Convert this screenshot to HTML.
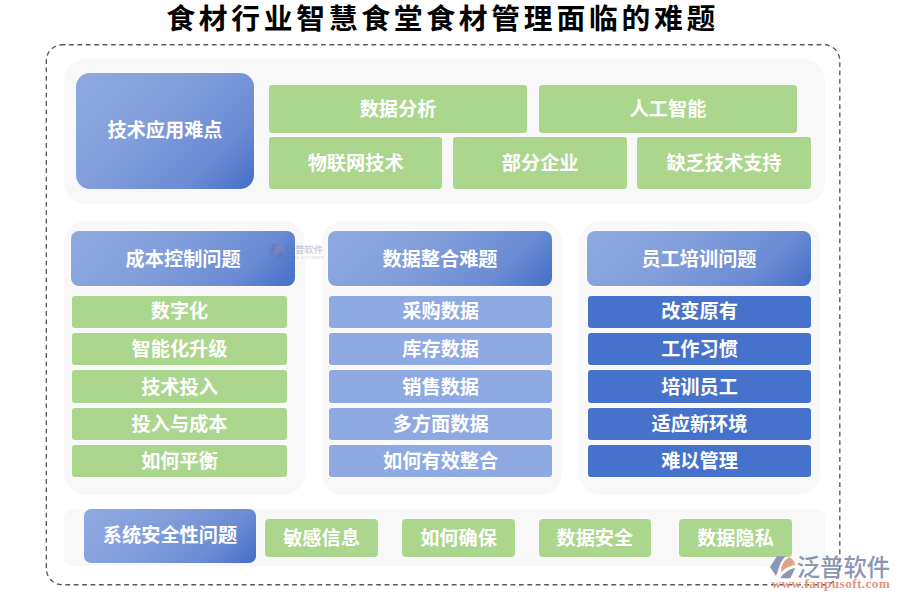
<!DOCTYPE html>
<html lang="zh-CN">
<head>
<meta charset="utf-8">
<title>食材行业智慧食堂食材管理面临的难题</title>
<style>
html,body{margin:0;padding:0;}
body{width:900px;height:600px;position:relative;overflow:hidden;background:#fff;
  font-family:"Liberation Sans","Noto Sans CJK SC",sans-serif;}
.abs{position:absolute;box-sizing:border-box;}
.title{left:166.2px;top:0.5px;height:36px;text-align:left;font-weight:bold;font-size:28.8px;
  letter-spacing:3.72px;color:#000;line-height:36px;white-space:nowrap;}
.panel{background:#f8f8f8;border-radius:22px;}
.box{display:flex;align-items:center;justify-content:center;color:#fff;font-weight:bold;
  font-size:19.2px;white-space:nowrap;line-height:1;box-shadow:0 0 0 1px rgba(255,255,255,.4);}
.g{background:#abd68d;border-radius:3px;}
.lb{background:#8faae2;border-radius:3px;}
.db{background:#4672cb;border-radius:3px;}
.grad{background:linear-gradient(135deg,#8fa9e0 0%,#819edb 42%,#6a8bd4 76%,#446ec7 100%);}
</style>
</head>
<body>
<div class="abs title">食材行业智慧食堂食材管理面临的难题</div>

<svg class="abs" style="left:0;top:0" width="900" height="600" viewBox="0 0 900 600">
  <rect x="46.3" y="44.7" width="793.5" height="540" rx="16" ry="16" fill="none" stroke="#5a5a5a" stroke-width="1.35" stroke-dasharray="4.8 3.6" stroke-dashoffset="1.7"/>
</svg>

<!-- top panel -->
<div class="abs panel" style="left:64px;top:58.5px;width:761px;height:145px;"></div>
<div class="abs box grad" style="left:76px;top:73px;width:178px;height:115.5px;border-radius:14px;">技术应用难点</div>
<div class="abs box g" style="left:269px;top:85px;width:258px;height:47.7px;padding-top:2px;">数据分析</div>
<div class="abs box g" style="left:539px;top:85px;width:258px;height:47.7px;padding-top:2px;">人工智能</div>
<div class="abs box g" style="left:269px;top:137px;width:173.3px;height:51.7px;padding-top:1px;">物联网技术</div>
<div class="abs box g" style="left:453px;top:137px;width:174.3px;height:51.7px;padding-top:1px;">部分企业</div>
<div class="abs box g" style="left:637px;top:137px;width:174px;height:51.7px;padding-top:1px;">缺乏技术支持</div>

<!-- middle panels -->
<div class="abs panel" style="left:64px;top:221px;width:241px;height:274px;"></div>
<div class="abs panel" style="left:321.7px;top:221px;width:240px;height:274px;"></div>
<div class="abs panel" style="left:579.3px;top:221px;width:240.7px;height:274px;"></div>

<div class="abs box grad" style="left:71px;top:230.7px;width:224.3px;height:55.3px;border-radius:8px;padding-top:2px;">成本控制问题</div>
<div class="abs box grad" style="left:328px;top:230.7px;width:224px;height:55.3px;border-radius:8px;padding-top:2px;">数据整合难题</div>
<div class="abs box grad" style="left:587px;top:230.7px;width:224px;height:55.3px;border-radius:8px;padding-top:2px;">员工培训问题</div>

<div class="abs box g" style="left:72px;top:296px;width:215px;height:32.2px;">数字化</div>
<div class="abs box g" style="left:72px;top:333.2px;width:215px;height:32.2px;">智能化升级</div>
<div class="abs box g" style="left:72px;top:370.4px;width:215px;height:32.2px;padding-top:2px;">技术投入</div>
<div class="abs box g" style="left:72px;top:407.6px;width:215px;height:32.2px;padding-top:2px;">投入与成本</div>
<div class="abs box g" style="left:72px;top:444.8px;width:215px;height:32.2px;padding-top:2px;">如何平衡</div>

<div class="abs box lb" style="left:329.3px;top:296px;width:222.7px;height:32.2px;">采购数据</div>
<div class="abs box lb" style="left:329.3px;top:333.2px;width:222.7px;height:32.2px;">库存数据</div>
<div class="abs box lb" style="left:329.3px;top:370.4px;width:222.7px;height:32.2px;padding-top:2px;">销售数据</div>
<div class="abs box lb" style="left:329.3px;top:407.6px;width:222.7px;height:32.2px;padding-top:2px;">多方面数据</div>
<div class="abs box lb" style="left:329.3px;top:444.8px;width:222.7px;height:32.2px;padding-top:2px;">如何有效整合</div>

<div class="abs box db" style="left:588px;top:296px;width:223px;height:32.2px;">改变原有</div>
<div class="abs box db" style="left:588px;top:333.2px;width:223px;height:32.2px;">工作习惯</div>
<div class="abs box db" style="left:588px;top:370.4px;width:223px;height:32.2px;padding-top:2px;">培训员工</div>
<div class="abs box db" style="left:588px;top:407.6px;width:223px;height:32.2px;padding-top:2px;">适应新环境</div>
<div class="abs box db" style="left:588px;top:444.8px;width:223px;height:32.2px;padding-top:2px;">难以管理</div>

<!-- bottom panel -->
<div class="abs panel" style="left:64px;top:509px;width:761px;height:57px;border-radius:9px;"></div>
<div class="abs box grad" style="left:84px;top:509px;width:172px;height:53.7px;border-radius:7px;">系统安全性问题</div>
<div class="abs box g" style="left:265px;top:519px;width:113px;height:37.7px;border-radius:4px;padding-top:2px;">敏感信息</div>
<div class="abs box g" style="left:402px;top:519px;width:113px;height:37.7px;border-radius:4px;padding-top:2px;">如何确保</div>
<div class="abs box g" style="left:538.7px;top:519px;width:112.3px;height:37.7px;border-radius:4px;padding-top:2px;">数据安全</div>
<div class="abs box g" style="left:679px;top:519px;width:113px;height:37.7px;border-radius:4px;padding-top:2px;">数据隐私</div>

<!-- watermark -->
<svg class="abs" style="left:260px;top:235px;opacity:0.3" width="75" height="30" viewBox="0 0 75 30">
  <g transform="translate(5.75,4.45) scale(0.6,0.68)">
  <path d="M12,6.3 L20.7,6.3 C16.7,10 14.3,14.7 13.3,20 L11,26 L5,17 Z" fill="#5b6b94"/>
  <path d="M16,22.3 C15.7,15.3 19.3,9.3 24.7,7.3 C28,9.3 30,12.7 30.1,15 C24.7,15.7 19.3,18.7 16,22.3 Z" fill="#d9785a"/>
  <path d="M15,28.3 C18.7,22.7 24,19 30.3,17.9 L25.3,28.3 Z" fill="#5b6b94"/>
  </g>
  <g transform="translate(25.6,18) scale(0.5)">
  <text x="0" y="0" font-family="'Liberation Sans','Noto Sans CJK SC',sans-serif" font-weight="bold" font-size="18.7" fill="#5b6b94">泛普软件</text>
  <text x="1" y="11.2" font-family="'Liberation Sans',sans-serif" font-size="6.6" letter-spacing="1.05" fill="#5b6b94">FANPU SOFTWARE</text>
  </g>
</svg>

<!-- logo -->
<svg class="abs" style="left:765px;top:550px" width="135" height="50" viewBox="0 0 135 50">
  <path d="M12,6.3 L20.7,6.3 C16.7,10 14.3,14.7 13.3,20 L11,26 L5,17 Z" fill="#8b97b5"/>
  <path d="M16,22.3 C15.7,15.3 19.3,9.3 24.7,7.3 C28,9.3 30,12.7 30.1,15 C24.7,15.7 19.3,18.7 16,22.3 Z" fill="#e2a28a"/>
  <path d="M15,28.3 C18.7,22.7 24,19 30.3,17.9 L25.3,28.3 Z" fill="#8b97b5"/>
  <text x="31.8" y="26.3" font-family="'Liberation Sans','Noto Sans CJK SC',sans-serif" font-size="23.3" font-weight="500" fill="#8a96b3">泛普软件</text>
  <text x="6.5" y="37.8" font-family="'Liberation Serif',serif" font-weight="bold" font-size="13.3" letter-spacing="0.38" fill="#e2957b">www.fanpusoft.com</text>
</svg>

</body>
</html>
